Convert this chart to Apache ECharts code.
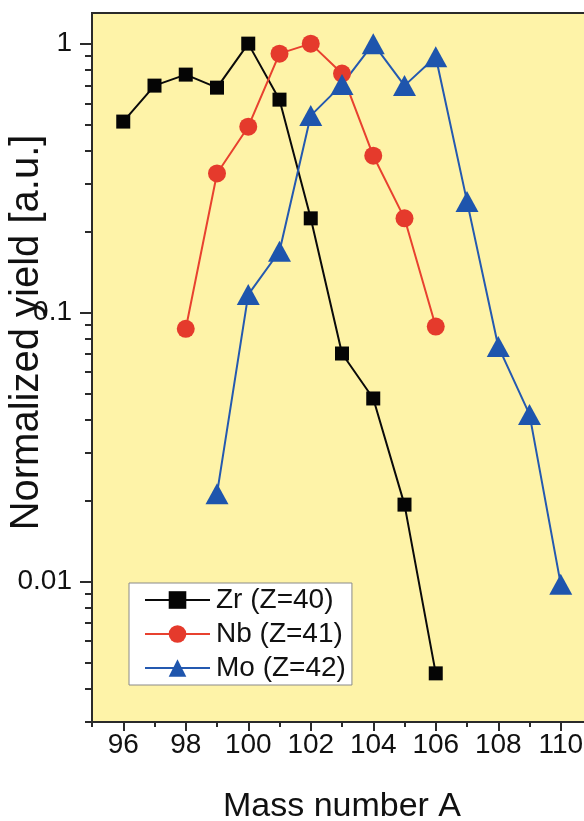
<!DOCTYPE html>
<html>
<head>
<meta charset="utf-8">
<script src="https://cdn.jsdelivr.net/npm/echarts@6/dist/echarts.min.js"></script>
<style>
html,body{margin:0;padding:0;background:#fff;}
#c{width:584px;height:821px;}
</style>
</head>
<body>
<div id="c"></div>
<script>
var massZr = [96, 97, 98, 99, 100, 101, 102, 103, 104, 105, 106];
var yieldZr = [0.513, 0.698, 0.767, 0.686, 1.0, 0.619, 0.224, 0.0704, 0.0479, 0.0193, 0.00455];
var massNb = [98, 99, 100, 101, 102, 103, 104, 105, 106];
var yieldNb = [0.087, 0.329, 0.491, 0.918, 1.0, 0.774, 0.383, 0.224, 0.0887];
var massMo = [99, 100, 101, 102, 103, 104, 105, 106, 107, 108, 109, 110];
var yieldMo = [0.0212, 0.1166, 0.169, 0.54, 0.704, 1.0, 0.698, 0.894, 0.259, 0.0748, 0.0418, 0.00975];
var seriesNames = ['Zr (Z=40)', 'Nb (Z=41)', 'Mo (Z=42)'];
var xMajorTicks = [96, 98, 100, 102, 104, 106, 108, 110];
var xMinorTicks = [95, 97, 99, 101, 103, 105, 107, 109];
var yMajorTicks = [0.01, 0.1, 1];
var yMinorTicks = [0.003, 0.004, 0.005, 0.006, 0.007, 0.008, 0.009,
  0.02, 0.03, 0.04, 0.05, 0.06, 0.07, 0.08, 0.09,
  0.2, 0.3, 0.4, 0.5, 0.6, 0.7, 0.8, 0.9];

function pairs(xs, ys) { return xs.map(function (x, i) { return [x, ys[i]]; }); }

var FONT = '"Liberation Sans", Arial, Helvetica, sans-serif';
var AX = '#2a2a2a';

var chart = echarts.init(document.getElementById('c'), null, {renderer: 'canvas'});
chart.setOption({
  animation: false,
  grid: {
    left: 92, top: 13, right: -8, bottom: 99,
    outerBoundsMode: 'none', containLabel: false,
    show: true, backgroundColor: '#FEF3A8',
    borderColor: AX, borderWidth: 2
  },
  legend: {
    orient: 'vertical', left: 129, top: 583,
    backgroundColor: '#ffffff', borderColor: '#8a8a8a', borderWidth: 1,
    padding: [3, 6, 3, 15],
    itemWidth: 65, itemHeight: 22, itemGap: 6,
    textStyle: {fontFamily: FONT, fontSize: 28, color: '#111', lineHeight: 28, padding: [0,0,0,1]},
    data: seriesNames
  },
  xAxis: [{
    type: 'value', min: 95, max: 111, position: 'bottom',
    name: 'Mass number A', nameLocation: 'middle', nameGap: 68,
    nameTextStyle: {fontFamily: FONT, fontSize: 34, color: '#111'},
    axisLine: {show: true, lineStyle: {color: AX, width: 2}},
    axisTick: {show: true, inside: false, length: 9, lineStyle: {color: AX, width: 2}, customValues: xMajorTicks},
    axisLabel: {fontFamily: FONT, fontSize: 28, color: '#111', margin: 9, customValues: xMajorTicks},
    splitLine: {show: false}
  }, {
    type: 'value', min: 95, max: 111, position: 'bottom', offset: 0,
    axisLine: {show: false},
    axisTick: {show: true, inside: false, length: 5, lineStyle: {color: AX, width: 2}, customValues: xMinorTicks},
    axisLabel: {show: false},
    splitLine: {show: false}
  }],
  yAxis: [{
    type: 'log', logBase: 10, min: 0.003, max: 1.3, position: 'left',
    name: 'Normalized yield [a.u.]', nameLocation: 'middle', nameGap: 45, nameMoveOverlap: false,
    nameTextStyle: {fontFamily: FONT, fontSize: 40, color: '#111', padding: [0, 0, 0, 70]},
    axisLine: {show: true, lineStyle: {color: AX, width: 2}},
    axisTick: {show: true, inside: false, length: 12, lineStyle: {color: AX, width: 2}, customValues: yMajorTicks},
    axisLabel: {fontFamily: FONT, fontSize: 28, color: '#111', margin: 20, customValues: yMajorTicks,
      formatter: function (v) { return String(v); }},
    splitLine: {show: false}, minorTick: {show: false}
  }, {
    type: 'log', logBase: 10, min: 0.003, max: 1.3, position: 'left', offset: 0,
    axisLine: {show: false},
    axisTick: {show: true, inside: false, length: 7, lineStyle: {color: AX, width: 2}, customValues: yMinorTicks},
    axisLabel: {show: false},
    splitLine: {show: false}
  }],
  series: [{
    name: seriesNames[0], type: 'line', xAxisIndex: 0, yAxisIndex: 0,
    data: pairs(massZr, yieldZr),
    symbol: 'rect', symbolSize: 14,
    lineStyle: {color: '#0a0a0a', width: 2},
    itemStyle: {color: '#050505'}
  }, {
    name: seriesNames[1], type: 'line', xAxisIndex: 0, yAxisIndex: 0,
    data: pairs(massNb, yieldNb),
    symbol: 'circle', symbolSize: 18,
    lineStyle: {color: '#E8412F', width: 2},
    itemStyle: {color: '#E53A2C'}
  }, {
    name: seriesNames[2], type: 'line', xAxisIndex: 0, yAxisIndex: 0,
    data: pairs(massMo, yieldMo),
    symbol: 'triangle', symbolSize: [23, 21],
    lineStyle: {color: '#2459B0', width: 2},
    itemStyle: {color: '#1E55AD'}
  }]
});
</script>
</body>
</html>
